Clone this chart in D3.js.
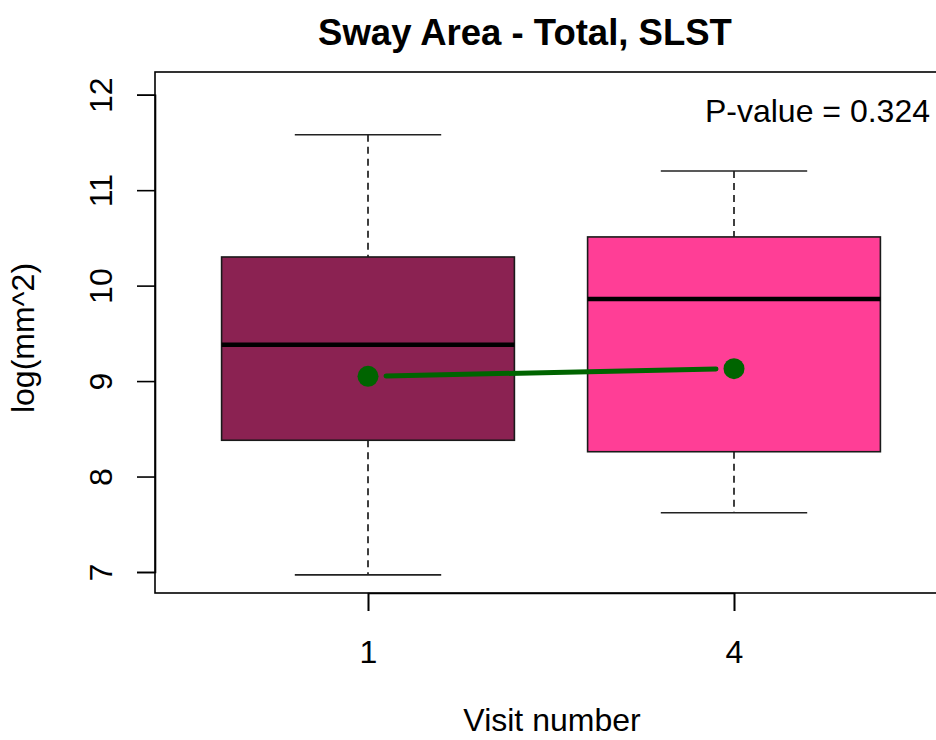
<!DOCTYPE html>
<html>
<head>
<meta charset="utf-8">
<script src="https://cdn.jsdelivr.net/npm/d3@7"></script>
<style>
  html, body { margin: 0; padding: 0; background: #fff; }
  svg { display: block; font-family: "Liberation Sans", Arial, sans-serif; }
</style>
</head>
<body>
<svg id="chart" width="936" height="740"></svg>
<script>
// Sway area (log mm^2) by visit: box-and-whisker summaries plus means
const visits = ["1", "4"];
const upperWhisker = [11.58, 11.20];
const q3 = [10.30, 10.51];
const medians = [9.38, 9.86];
const q1 = [8.38, 8.26];
const lowerWhisker = [6.97, 7.62];
const means = [9.05, 9.13];
const boxColors = ["#8B2252", "#FF3E96"];
const yTicks = [7, 8, 9, 10, 11, 12];
const pValue = "0.324";

const svg = d3.select("#chart");
const frame = { left: 155, top: 72, right: 940, bottom: 593 };

const x = d3.scalePoint().domain(visits).range([368, 734]);
const y = d3.scaleLinear().domain([7, 12]).range([572, 94.7]);
const step = x(visits[1]) - x(visits[0]);
const boxW = step * 0.8;
const capW = boxW / 2;

const rows = visits.map((v, i) => ({
  v, lo: lowerWhisker[i], q1: q1[i], med: medians[i], q3: q3[i], hi: upperWhisker[i],
  mean: means[i], color: boxColors[i]
}));

// whiskers (dashed stems + solid caps), boxes and medians
const g = svg.append("g");
rows.forEach(d => {
  const cx = x(d.v);
  g.append("line").attr("x1", cx).attr("x2", cx).attr("y1", y(d.hi)).attr("y2", y(d.q3))
    .attr("stroke", "#000").attr("stroke-width", 1.5).attr("stroke-dasharray", "7,5");
  g.append("line").attr("x1", cx).attr("x2", cx).attr("y1", y(d.q1)).attr("y2", y(d.lo))
    .attr("stroke", "#000").attr("stroke-width", 1.5).attr("stroke-dasharray", "7,5");
  [d.hi, d.lo].forEach(val => {
    g.append("line").attr("x1", cx - capW / 2).attr("x2", cx + capW / 2)
      .attr("y1", y(val)).attr("y2", y(val))
      .attr("stroke", "#222").attr("stroke-width", 1.6);
  });
  g.append("rect").attr("x", cx - boxW / 2).attr("width", boxW)
    .attr("y", y(d.q3)).attr("height", y(d.q1) - y(d.q3))
    .attr("fill", d.color).attr("stroke", "#1a1a1a").attr("stroke-width", 1.6);
  g.append("line").attr("x1", cx - boxW / 2).attr("x2", cx + boxW / 2)
    .attr("y1", y(d.med)).attr("y2", y(d.med))
    .attr("stroke", "#000").attr("stroke-width", 4.5);
});

// mean trend: segments leave a gap around each point
const gap = 18;
for (let i = 0; i < rows.length - 1; i++) {
  const x0 = x(rows[i].v), y0 = y(rows[i].mean);
  const x1 = x(rows[i + 1].v), y1 = y(rows[i + 1].mean);
  const len = Math.hypot(x1 - x0, y1 - y0);
  const ux = (x1 - x0) / len, uy = (y1 - y0) / len;
  svg.append("line")
    .attr("x1", x0 + ux * gap).attr("y1", y0 + uy * gap)
    .attr("x2", x1 - ux * gap).attr("y2", y1 - uy * gap)
    .attr("stroke", "#006400").attr("stroke-width", 5)
    .attr("stroke-linecap", "round");
}
svg.selectAll("circle.mean").data(rows).join("circle")
  .attr("class", "mean")
  .attr("cx", d => x(d.v)).attr("cy", d => y(d.mean)).attr("r", 10.5)
  .attr("fill", "#006400");

// plot frame
svg.append("rect")
  .attr("x", frame.left).attr("y", frame.top)
  .attr("width", frame.right - frame.left).attr("height", frame.bottom - frame.top)
  .attr("fill", "none").attr("stroke", "#000").attr("stroke-width", 1.6);

// y axis
const yAxis = svg.append("g").attr("transform", `translate(${frame.left},0)`)
  .call(d3.axisLeft(y).tickValues(yTicks).tickSize(18).tickFormat(d3.format("d")));
yAxis.select(".domain").attr("stroke-width", 1.6);
yAxis.selectAll(".tick line").attr("stroke-width", 1.6);
yAxis.selectAll(".tick text")
  .attr("font-size", 32).attr("fill", "#000")
  .attr("x", null).attr("dy", null)
  .attr("text-anchor", "middle")
  .attr("transform", "translate(-43,0) rotate(-90)");

// x axis
const xAxis = svg.append("g").attr("transform", `translate(0,${frame.bottom})`)
  .call(d3.axisBottom(x).tickSize(18).tickPadding(0));
xAxis.select(".domain").attr("stroke-width", 1.6);
xAxis.selectAll(".tick line").attr("stroke-width", 1.6);
xAxis.selectAll(".tick text")
  .attr("font-size", 32).attr("fill", "#000")
  .attr("y", 70).attr("dy", null);

// titles
svg.append("text").attr("x", 525).attr("y", 45).attr("text-anchor", "middle")
  .attr("font-size", 36.5).attr("font-weight", "bold").text("Sway Area - Total, SLST");
svg.append("text").attr("x", 552).attr("y", 731).attr("text-anchor", "middle")
  .attr("font-size", 32).text("Visit number");
svg.append("text").attr("transform", "translate(34,338) rotate(-90)")
  .attr("text-anchor", "middle").attr("font-size", 32).text("log(mm^2)");
svg.append("text").attr("x", 930).attr("y", 122).attr("text-anchor", "end")
  .attr("font-size", 32).text(`P-value = ${pValue}`);
</script>
</body>
</html>
